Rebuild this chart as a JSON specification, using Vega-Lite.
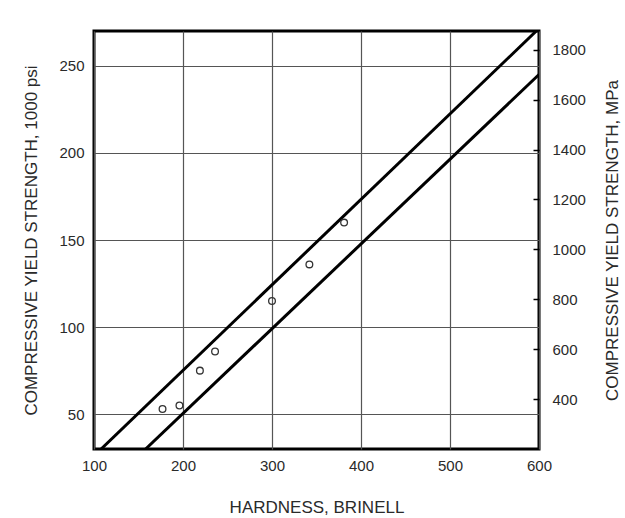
{
  "$schema": "https://vega.github.io/schema/vega-lite/v6.json",
  "width": 445,
  "height": 418,
  "autosize": {"type": "none"},
  "padding": {"left": 94, "top": 31, "right": 86, "bottom": 69},
  "background": "white",
  "config": {
    "font": "Liberation Sans",
    "view": {"stroke": "black", "strokeWidth": 3},
    "axis": {
      "labelFontSize": 15,
      "labelColor": "#2a2a2a",
      "titleFontSize": 17,
      "titleFontWeight": "normal",
      "titleColor": "#2a2a2a",
      "domain": false,
      "labelFlush": false,
      "labelOverlap": false,
      "gridColor": "#555555",
      "gridWidth": 1.2,
      "gridOpacity": 1
    }
  },
  "datasets": {
    "lines": [
      {"line": "upper", "hardness": 108, "ksi": 30},
      {"line": "upper", "hardness": 597, "ksi": 270},
      {"line": "lower", "hardness": 158, "ksi": 30},
      {"line": "lower", "hardness": 600, "ksi": 245}
    ],
    "points": [
      {"hardness": 177, "ksi": 53},
      {"hardness": 196, "ksi": 55},
      {"hardness": 219, "ksi": 75},
      {"hardness": 236, "ksi": 86},
      {"hardness": 300, "ksi": 115},
      {"hardness": 342, "ksi": 136},
      {"hardness": 381, "ksi": 160}
    ],
    "mpa": [{"mpa": 400}]
  },
  "layer": [
    {
      "encoding": {
        "x": {
          "field": "hardness",
          "type": "quantitative",
          "scale": {"domain": [100, 600], "nice": false, "zero": false},
          "axis": {
            "values": [100, 200, 300, 400, 500, 600],
            "title": "HARDNESS, BRINELL",
            "grid": true,
            "ticks": false,
            "labelPadding": 9,
            "titlePadding": 26
          }
        },
        "y": {
          "field": "ksi",
          "type": "quantitative",
          "scale": {"domain": [30, 270], "nice": false, "zero": false},
          "axis": {
            "values": [50, 100, 150, 200, 250],
            "title": "COMPRESSIVE YIELD STRENGTH, 1000 psi",
            "grid": true,
            "ticks": false,
            "labelPadding": 10,
            "titlePadding": 18
          }
        }
      },
      "layer": [
        {
          "data": {"name": "lines"},
          "mark": {"type": "line", "color": "black", "strokeWidth": 3, "clip": true},
          "encoding": {"detail": {"field": "line"}}
        },
        {
          "data": {"name": "points"},
          "mark": {"type": "point", "shape": "circle", "filled": false, "stroke": "#333333", "strokeWidth": 1.3, "size": 45, "opacity": 1}
        }
      ]
    },
    {
      "data": {"name": "mpa"},
      "mark": {"type": "point", "opacity": 0},
      "encoding": {
        "y": {
          "field": "mpa",
          "type": "quantitative",
          "scale": {"domain": [200, 1875], "nice": false, "zero": false},
          "axis": {
            "orient": "right",
            "values": [400, 600, 800, 1000, 1200, 1400, 1600, 1800],
            "format": "d",
            "title": "COMPRESSIVE YIELD STRENGTH, MPa",
            "grid": false,
            "ticks": true,
            "tickSize": -6,
            "tickColor": "black",
            "tickWidth": 1.5,
            "labelPadding": 19,
            "titleAngle": 270,
            "titleBaseline": "top",
            "titlePadding": 19
          }
        }
      }
    }
  ],
  "resolve": {"scale": {"y": "independent"}, "axis": {"y": "independent"}}
}
